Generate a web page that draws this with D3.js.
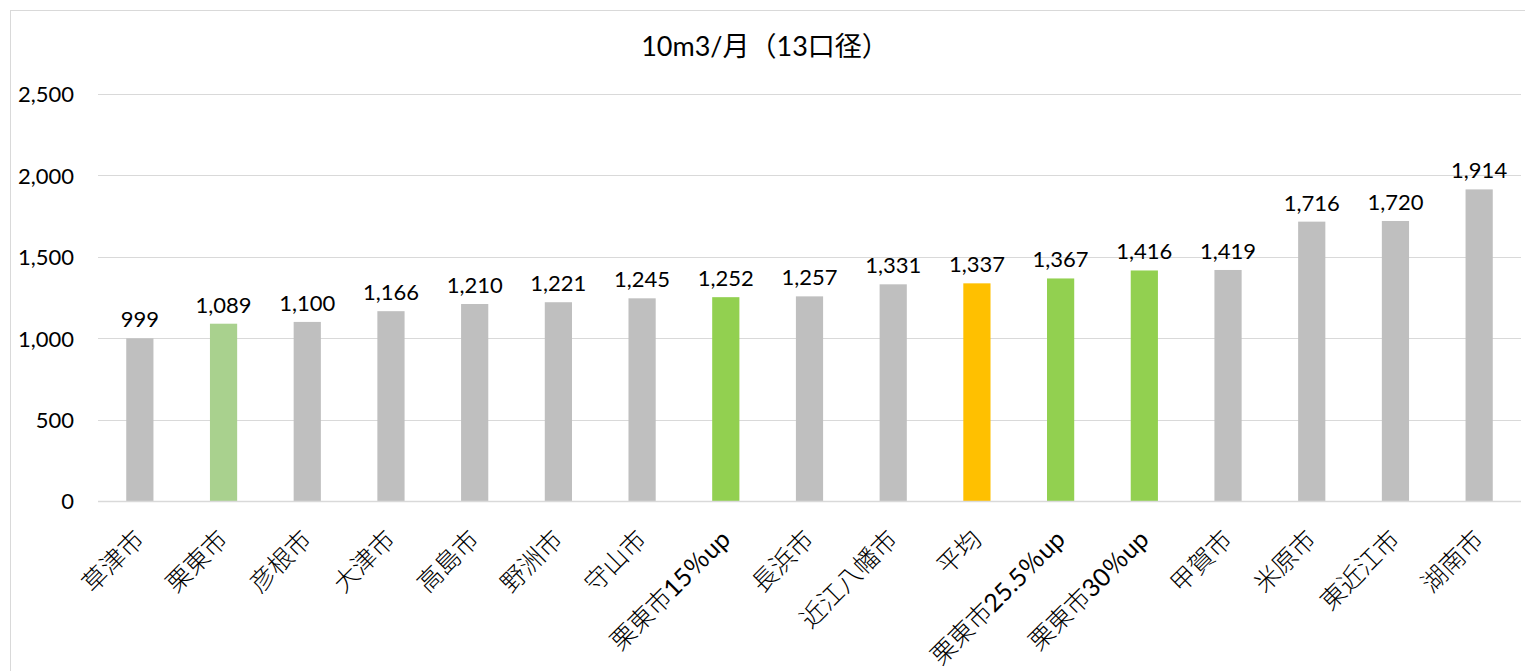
<!DOCTYPE html>
<html><head><meta charset="utf-8">
<script src="https://cdn.jsdelivr.net/npm/d3@7"></script>
<style>
html,body{margin:0;padding:0;background:#fff;}
svg{display:block;}
text{font-family:Lato,"Noto Sans CJK JP",sans-serif;fill:#000;}
</style></head><body>
<svg id="chart" width="1525" height="671"></svg>
<script>
const title = "10m3/月（13口径）";
const categories = ["草津市","栗東市","彦根市","大津市","高島市","野洲市","守山市","栗東市15％up","長浜市","近江八幡市","平均","栗東市25.5％up","栗東市30％up","甲賀市","米原市","東近江市","湖南市"];
const values = [999,1089,1100,1166,1210,1221,1245,1252,1257,1331,1337,1367,1416,1419,1716,1720,1914];
const barColors = ["#BFBFBF","#A9D18E","#BFBFBF","#BFBFBF","#BFBFBF","#BFBFBF","#BFBFBF","#92D050","#BFBFBF","#BFBFBF","#FFC000","#92D050","#92D050","#BFBFBF","#BFBFBF","#BFBFBF","#BFBFBF"];
const yTicks = [0,500,1000,1500,2000,2500];

const svg = d3.select("#chart");
const W = 1525, H = 671;
const plot = {left: 98, right: 1521, top: 94, bottom: 501};

// chart border
svg.append("rect").attr("x",10.5).attr("y",10.5).attr("width",W).attr("height",H)
  .attr("fill","none").attr("stroke","#D9D9D9").attr("stroke-width",1);

const x = d3.scaleBand().domain(categories).range([plot.left, plot.right]).paddingInner(0.675).paddingOuter(0.3375);
const y = d3.scaleLinear().domain([0,2500]).range([plot.bottom, plot.top]);

// gridlines
svg.append("g").selectAll("line").data(yTicks.filter(d=>d>0)).join("line")
  .attr("x1",plot.left).attr("x2",plot.right)
  .attr("y1",d=>Math.round(y(d))+0.5).attr("y2",d=>Math.round(y(d))+0.5)
  .attr("stroke","#D9D9D9").attr("stroke-width",1);

// y axis labels
const yAxis = d3.axisLeft(y).tickValues(yTicks).tickFormat(d3.format(",")).tickSize(0).tickPadding(0);
const ga = svg.append("g").attr("transform",`translate(74,0)`).call(yAxis);
ga.select(".domain").remove();
ga.selectAll("text").attr("font-size",22).attr("font-family","Lato,'Noto Sans CJK JP',sans-serif").attr("fill","#000").attr("dy","0.36em");

// bars
svg.append("g").selectAll("rect").data(values).join("rect")
  .attr("x",(d,i)=>x(categories[i]))
  .attr("width",x.bandwidth())
  .attr("y",d=>y(d))
  .attr("height",d=>y(0)-y(d))
  .attr("fill",(d,i)=>barColors[i]);

// x axis line
svg.append("line").attr("x1",plot.left).attr("x2",plot.right)
  .attr("y1",plot.bottom+0.5).attr("y2",plot.bottom+0.5)
  .attr("stroke","#D9D9D9").attr("stroke-width",1.5);

// data labels
svg.append("g").selectAll("text").data(values).join("text")
  .attr("x",(d,i)=>x(categories[i])+x.bandwidth()/2)
  .attr("y",d=>y(d)-11)
  .attr("text-anchor","middle").attr("font-size",22)
  .text(d=>d3.format(",")(d));

// x category labels (CJK part light, latin part regular)
const catTexts = svg.append("g").selectAll("text").data(categories).join("text")
  .attr("transform",(d,i)=>`translate(${x(d)+x.bandwidth()/2+6},${541}) rotate(-45)`)
  .attr("text-anchor","end").attr("font-size",25)
  .attr("font-family","'Noto Sans CJK JP',sans-serif");
catTexts.each(function(d){
  const parts = d.match(/[\u3000-\u9fff]+|[^\u3000-\u9fff]+/g);
  const t = d3.select(this);
  parts.forEach(p=>{
    const isCJK = /[\u3000-\u9fff]/.test(p);
    t.append("tspan").attr("font-weight",isCJK?300:400).text(p);
  });
});

// title
svg.append("text").attr("x",765).attr("y",56).attr("text-anchor","middle").attr("font-size",27).text(title);
</script>
</body></html>
